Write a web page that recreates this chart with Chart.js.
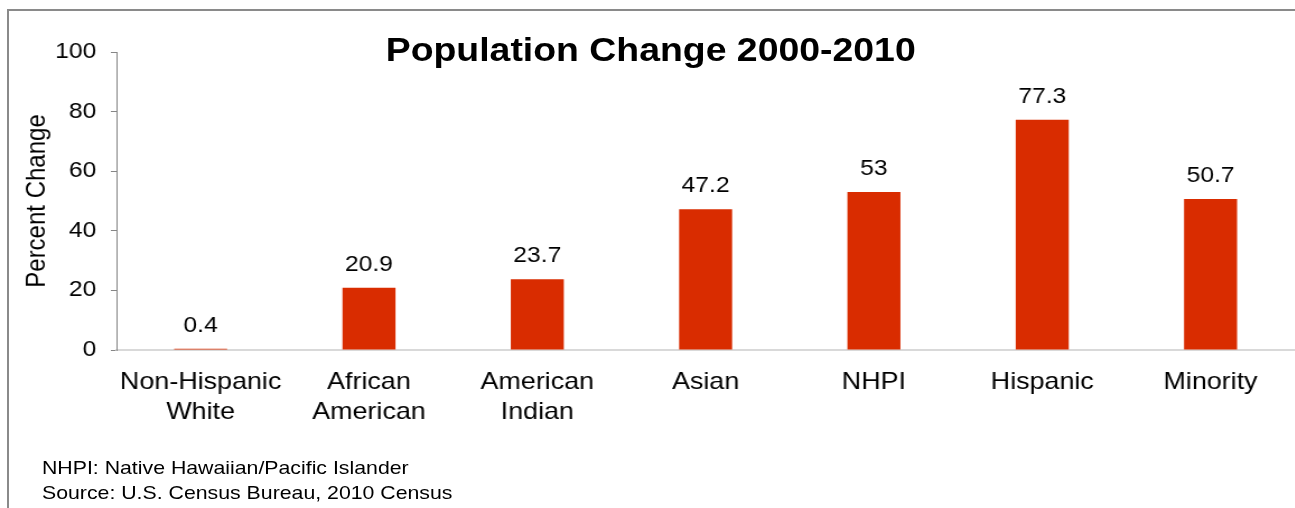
<!DOCTYPE html>
<html>
<head>
<meta charset="utf-8">
<script src="https://cdn.jsdelivr.net/npm/chart.js@4/dist/chart.umd.min.js"></script>
<style>
  body { margin: 0; background: #fff; overflow: hidden; width: 1295px; height: 508px; position: relative; }
  #frameLeft { position: absolute; left: 7px; top: 9px; width: 2px; height: 499px; background: #8a8a8a; }
  #frameTop { position: absolute; left: 7px; top: 9px; width: 1288px; height: 2px; background: #8a8a8a; }
  #wrap { position: absolute; left: 0; top: 0; width: 1156px; height: 508px; transform: scaleX(1.12); transform-origin: 0 0; }
  #title { position: absolute; left: 0; width: 1162px; top: 33px; text-align: center;
    font: bold 33.4px "Liberation Sans", Arial, sans-serif; line-height: 34px; color: #000; }
  #notes { position: absolute; left: 37.5px; top: 455px; font: 19px "Liberation Sans", Arial, sans-serif; line-height: 25px; color: #000; }
  canvas { position: absolute; left: 0; top: 0; }
</style>
</head>
<body>
<div id="frameLeft"></div>
<div id="frameTop"></div>
<div id="wrap">
  <canvas id="chart" width="1156" height="508"></canvas>
  <div id="title">Population Change 2000-2010</div>
  <div id="notes">NHPI: Native Hawaiian/Pacific Islander<br>Source: U.S. Census Bureau, 2010 Census</div>
</div>
<script>
/*** Population change chart ***/
var categories = [['Non-Hispanic', 'White'], ['African', 'American'], ['American', 'Indian'], 'Asian', 'NHPI', 'Hispanic', 'Minority'];
var changeValues = [0.4, 20.9, 23.7, 47.2, 53, 77.3, 50.7];
var yTicks = [0, 20, 40, 60, 80, 100];

var fontFamily = '"Liberation Sans", Arial, sans-serif';

/* etiquetas de valor encima de las barras */
var valueLabels = {
    id: 'valueLabels',
    afterDatasetsDraw: function (chart) {
        var ctx = chart.ctx;
        var meta = chart.getDatasetMeta(0);
        ctx.save();
        ctx.font = '22px ' + fontFamily;
        ctx.fillStyle = '#000';
        ctx.textAlign = 'center';
        ctx.textBaseline = 'alphabetic';
        meta.data.forEach(function (bar, i) {
            ctx.fillText(String(changeValues[i]), bar.x, bar.y - 17);
        });
        ctx.restore();
    }
};

var ctx = document.getElementById('chart').getContext('2d');
var myChart = new Chart(ctx, {
    type: 'bar',
    data: {
        labels: categories,
        datasets: [{
            label: 'Percent Change',
            data: changeValues,
            backgroundColor: '#d92c00',
            borderWidth: 0,
            categoryPercentage: 1,
            barPercentage: 0.315
        }]
    },
    options: {
        responsive: false,
        animation: false,
        layout: { padding: { top: 52, left: 0, right: 0, bottom: 0 } },
        plugins: {
            legend: { display: false },
            tooltip: { enabled: false },
            title: { display: false }
        },
        scales: {
            x: {
                grid: { display: true, drawOnChartArea: false, drawTicks: false },
                border: { display: true, color: '#d9d9d9', width: 2 },
                ticks: {
                    color: '#000',
                    font: { size: 24, family: fontFamily, lineHeight: 1.25 },
                    padding: 17,
                    maxRotation: 0,
                    autoSkip: false
                },
                afterFit: function (scale) { scale.height = 158; }
            },
            y: {
                min: yTicks[0],
                max: yTicks[yTicks.length - 1],
                afterBuildTicks: function (scale) {
                    scale.ticks = yTicks.map(function (v) { return { value: v }; });
                },
                grid: { drawOnChartArea: false, drawTicks: true, tickLength: 5, color: '#868686' },
                border: { display: true, color: '#868686', width: 1 },
                ticks: {
                    color: '#000',
                    font: { size: 22, family: fontFamily },
                    padding: 13
                },
                title: {
                    display: true,
                    text: 'Percent Change',
                    color: '#000',
                    font: { size: 24, family: fontFamily },
                    padding: { top: 19, bottom: 0 }
                },
                afterFit: function (scale) { scale.width = 104; }
            }
        }
    },
    plugins: [valueLabels]
});
</script>
</body>
</html>
